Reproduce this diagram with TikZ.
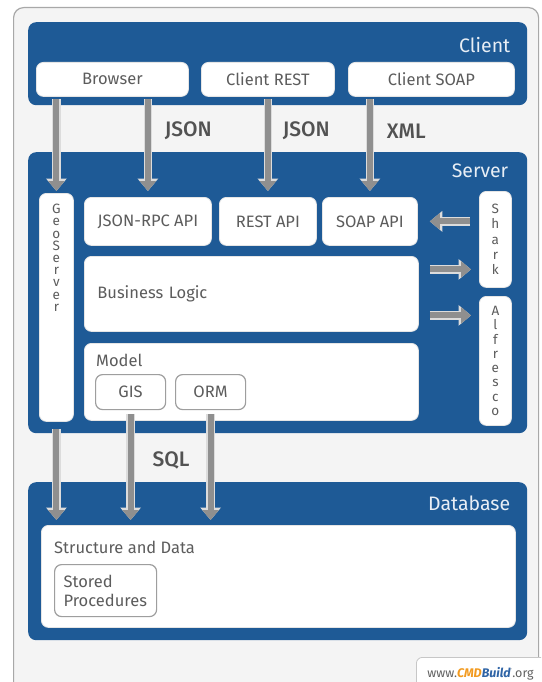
\documentclass[tikz,border=0pt]{standalone}
\usepackage{fontspec}
\setmainfont{Fira Sans}
\newfontfamily\medfont{Fira Sans Medium}
\usepackage{tikz}
\usetikzlibrary{arrows.meta, positioning}
\definecolor{TierBlue}{HTML}{1E5A96}
\definecolor{TierText}{HTML}{E8EEF5}
\definecolor{PanelGray}{HTML}{F4F4F4}
\definecolor{PanelEdge}{HTML}{A8A8A8}
\definecolor{TextGray}{HTML}{5C5C5C}
\definecolor{PipeGray}{HTML}{8F8F8F}
\definecolor{PipeEdge}{HTML}{DCDCDC}
\definecolor{CMDOrange}{HTML}{F29A1F}
\definecolor{CMDBlue}{HTML}{2F64A6}

\begin{document}
\begin{tikzpicture}[
  x=1pt, y=-1pt,
  panel/.style={rectangle, anchor=north west, fill=PanelGray, draw=PanelEdge, line width=1.2pt, rounded corners=10pt},
  tier/.style={rectangle, anchor=north west, fill=TierBlue, rounded corners=8pt, inner sep=0pt},
  tiername/.style={anchor=east, inner sep=0pt, text=TierText, font=\fontsize{19.5}{22}\selectfont},
  unit/.style={rectangle, anchor=north west, fill=white, draw=black!10, line width=0.8pt, rounded corners=7pt, inner sep=0pt, text=TextGray, font=\fontsize{16.5}{19}\selectfont},
  part/.style={unit, draw=black!38, line width=1.2pt},
  note/.style={inner sep=0pt, text=TextGray, font=\fontsize{16.5}{19}\selectfont},
  vtext/.style={align=center, inner sep=0pt, text=TextGray, font=\fontsize{13.5}{#1}\selectfont},
  proto/.style={inner sep=0pt, text=black!68, font=\medfont\fontsize{21}{24}\selectfont},
  pipe/.style={draw=PipeGray, line width=6pt, -{Triangle[length=10pt, width=16pt]},
    preaction={draw=PipeEdge, line width=8.5pt, -{Triangle[length=12.5pt, width=20pt]}}},
  site/.style={rectangle, anchor=north west, fill=white, draw=black!22, line width=0.8pt, rounded corners=6pt, align=left, inner xsep=11pt, text=black!62, font=\fontsize{12.5}{15}\selectfont}
]
\useasboundingbox (0,0) rectangle (541,682);
\clip (0,0) rectangle (541,682);

% frame and the three tiers
\node[panel, minimum width=525pt, minimum height=700pt] (Frame) at (13,7) {};
\node[tier, minimum width=499pt, minimum height=83pt] (Client) at (28,22) {};
\node[tier, minimum width=499pt, minimum height=281pt] (Server) at (28,152) {};
\node[tier, minimum width=499pt, minimum height=158pt] (Database) at (28,482) {};
\node[tiername] (ClientName) at ([shift={(-17,23)}]Client.north east) {Client};
\node[tiername] (ServerName) at ([shift={(-19,19)}]Server.north east) {Server};
\node[tiername] (DatabaseName) at ([shift={(-17,21)}]Database.north east) {Database};

% client side
\node[unit, minimum width=152pt, minimum height=34pt] (Browser) at (36,62) {Browser};
\node[unit, minimum width=133pt, minimum height=34pt] (ClientREST) at (201,62) {Client REST};
\node[unit, minimum width=166pt, minimum height=34pt] (ClientSOAP) at (348,62) {Client SOAP};

% server side
\node[unit, minimum width=34pt, minimum height=228pt,
  label={[vtext=12.2pt, anchor=north, yshift=-11pt]north:{G\\e\\o\\S\\e\\r\\v\\e\\r}}] (Geo) at (39,193) {};
\node[unit, minimum width=127pt, minimum height=48pt] (JSONRPC) at (84,197) {JSON-RPC API};
\node[unit, minimum width=97pt, minimum height=48pt] (RESTAPI) at (219,197) {REST API};
\node[unit, minimum width=95pt, minimum height=48pt] (SOAPAPI) at (322,197) {SOAP API};
\node[unit, vtext=15.4pt, minimum width=32pt, minimum height=96pt] (Shark) at (479,191) {S\\h\\a\\r\\k};
\node[unit, vtext=14.3pt, minimum width=32pt, minimum height=129pt] (Alfresco) at (479,296) {A\\l\\f\\r\\e\\s\\c\\o};
\node[unit, minimum height=75pt, text width=308pt, inner xsep=13pt, align=left] (Logic) at (84,256) {Business Logic};
\node[unit, minimum width=334pt, minimum height=77pt,
  label={[note, anchor=west, xshift=12pt, yshift=-17pt]north west:Model}] (Model) at (84,343) {};
\node[part, minimum width=70pt, minimum height=35pt] (GIS) at (95,374) {GIS};
\node[part, minimum width=70pt, minimum height=35pt] (ORM) at (175,374) {ORM};

% database side
\node[unit, minimum width=474pt, minimum height=102pt,
  label={[note, anchor=west, xshift=13pt, yshift=-22pt]north west:Structure and Data}] (Structure) at (41,525) {};
\node[part, minimum height=52pt, text width=84pt, inner xsep=9pt, align=left] (Stored) at (54,564) {Stored\\Procedures};

% calls between tiers
\draw[pipe, shorten <=2pt, shorten >=2pt] (Geo.north |- Browser.south) -- (Geo.north);
\draw[pipe, shorten <=2pt, shorten >=6pt] (JSONRPC.north |- Browser.south) -- node[proto, pos=0.34, right=14pt] (JsonA) {JSON} (JSONRPC.north);
\draw[pipe, shorten <=2pt, shorten >=6pt] (ClientREST.south) -- node[proto, pos=0.34, right=12pt] (JsonB) {JSON} (RESTAPI.north);
\draw[pipe, shorten <=2pt, shorten >=6pt] (SOAPAPI.north |- ClientSOAP.south) -- node[proto, pos=0.34, right=14pt] (Xml) {XML} (SOAPAPI.north);

\draw[pipe, shorten <=9pt, shorten >=12pt] (Shark.west |- SOAPAPI.east) -- (SOAPAPI.east);
\draw[pipe, shorten <=11pt, shorten >=8pt] ([yshift=24.5pt]Logic.east) -- ([yshift=24.5pt]Logic.east -| Shark.west);
\draw[pipe, shorten <=11pt, shorten >=8pt] ([yshift=-21.5pt]Logic.east) -- ([yshift=-21.5pt]Logic.east -| Alfresco.west);

\draw[pipe, shorten <=7pt, shorten >=5pt] (Geo.south) -- (Geo.south |- Structure.north);
\draw[pipe, shorten <=4pt, shorten >=5pt] (GIS.south) -- node[proto, pos=0.44, right=19pt] (Sql) {SQL} (GIS.south |- Structure.north);
\draw[pipe, shorten <=4pt, shorten >=5pt] (ORM.south) -- (ORM.south |- Structure.north);

% footer
\node[site, text width=130pt, minimum height=32pt] (Site) at (416,657)
  {www.{\bfseries\itshape\color{CMDOrange}CMD}{\bfseries\itshape\color{CMDBlue}Build}\textsuperscript{\tiny'}.org};
\end{tikzpicture}
\end{document}
